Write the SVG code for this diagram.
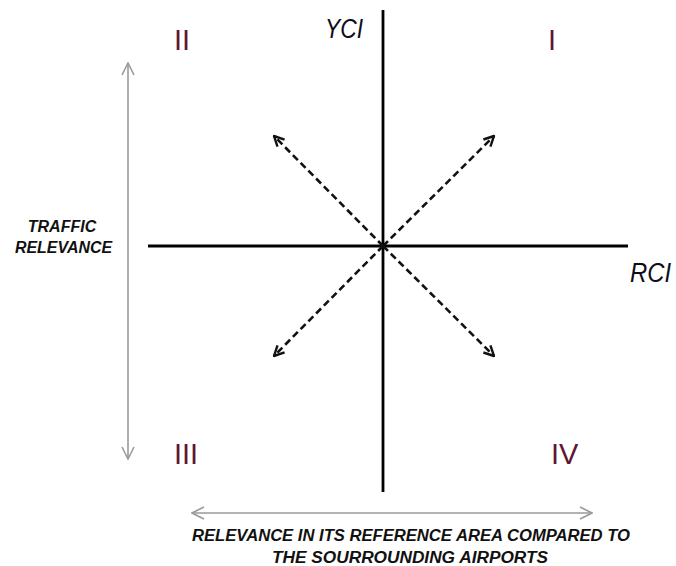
<svg xmlns="http://www.w3.org/2000/svg" width="676" height="566" viewBox="0 0 676 566">
<style>
.axis{stroke:#000;stroke-width:2.8;fill:none}
.diag{stroke:#111;stroke-width:2.6;stroke-dasharray:7 4;fill:none}
.gray{stroke:#9a9a9a;stroke-width:1.6;fill:none}
.num{font-family:"Liberation Sans",Arial,sans-serif;font-size:29px;fill:#5e1632}
.ax{font-family:"Liberation Sans",Arial,sans-serif;font-size:27px;font-style:italic;fill:#0d0d1a}
.lbl{font-family:"Liberation Sans",Arial,sans-serif;font-size:16px;font-style:italic;font-weight:bold;fill:#111}
</style>
<defs>
<marker id="ah" viewBox="0 0 12 12" refX="11" refY="6" markerWidth="12" markerHeight="12" markerUnits="userSpaceOnUse" orient="auto-start-reverse">
<path d="M1,1 L11,6 L1,11" fill="none" stroke="#111" stroke-width="2.4"/>
</marker>
<marker id="gh" viewBox="0 0 14 14" refX="13" refY="7" markerWidth="14" markerHeight="14" markerUnits="userSpaceOnUse" orient="auto-start-reverse">
<path d="M1,1 L13,7 L1,13" fill="none" stroke="#9a9a9a" stroke-width="1.6"/>
</marker>
</defs>
<g id="connectors">
<line class="axis" x1="383" y1="10" x2="383" y2="492"/>
<line class="axis" x1="148" y1="246" x2="628" y2="246"/>
<line class="diag" x1="383" y1="246" x2="274" y2="136" marker-end="url(#ah)"/>
<line class="diag" x1="383" y1="246" x2="494" y2="136" marker-end="url(#ah)"/>
<line class="diag" x1="383" y1="246" x2="274" y2="356" marker-end="url(#ah)"/>
<line class="diag" x1="383" y1="246" x2="494" y2="356" marker-end="url(#ah)"/>
<line class="gray" x1="128" y1="63" x2="128" y2="459" marker-start="url(#gh)" marker-end="url(#gh)"/>
<line class="gray" x1="192" y1="513" x2="592" y2="513" marker-start="url(#gh)" marker-end="url(#gh)"/>
</g>
<g id="q2"><text class="num" x="174" y="50">II</text></g>
<g id="q1"><text class="num" x="548" y="50">I</text></g>
<g id="q3"><text class="num" x="174" y="464">III</text></g>
<g id="q4"><text class="num" x="551" y="464">IV</text></g>
<g id="ycl"><text class="ax" x="325" y="38" textLength="38" lengthAdjust="spacingAndGlyphs">YCI</text></g>
<g id="rci"><text class="ax" x="630" y="282" textLength="41" lengthAdjust="spacingAndGlyphs">RCI</text></g>
<g id="traffic">
<text class="lbl" x="62" y="232" text-anchor="middle">TRAFFIC</text>
<text class="lbl" x="15" y="253" textLength="97" lengthAdjust="spacingAndGlyphs">RELEVANCE</text>
</g>
<g id="relevance">
<text class="lbl" x="192" y="541" textLength="438" lengthAdjust="spacingAndGlyphs">RELEVANCE IN ITS REFERENCE AREA COMPARED TO</text>
<text class="lbl" x="272" y="563" textLength="276" lengthAdjust="spacingAndGlyphs">THE SOURROUNDING  AIRPORTS</text>
</g>
</svg>
